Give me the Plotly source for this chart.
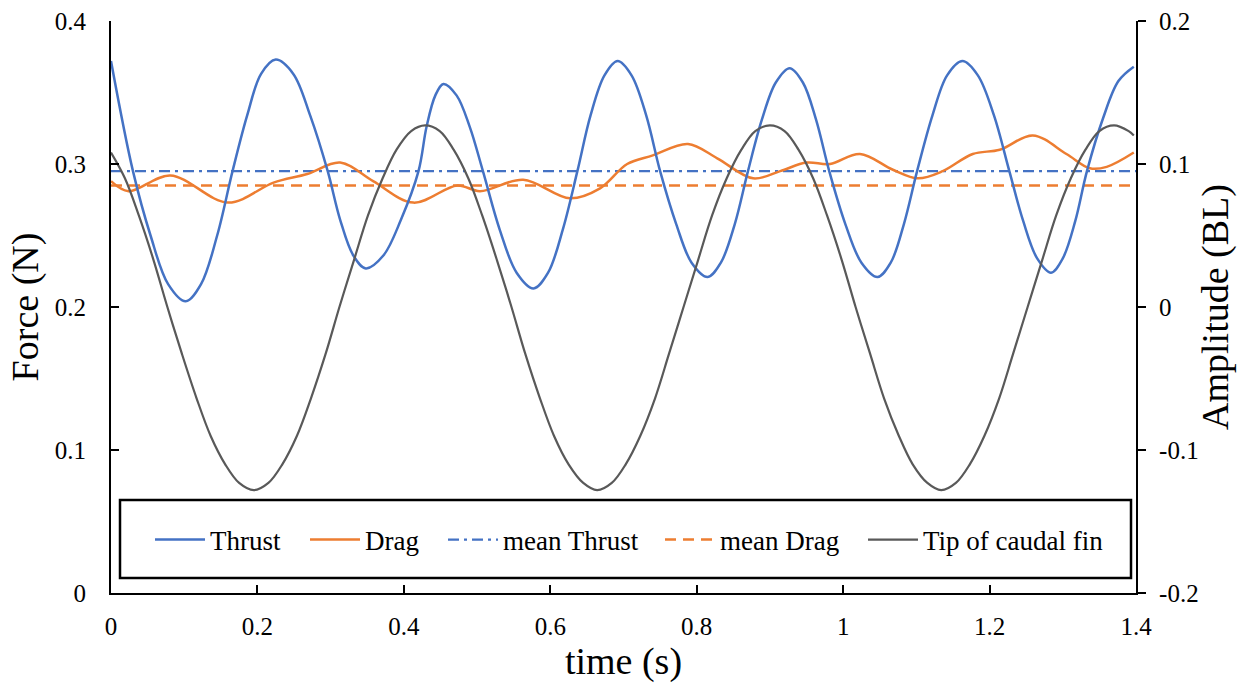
import plotly.graph_objects as go

# ---------------- data ----------------
thrust_t = [0.000, 0.030, 0.054, 0.078, 0.102, 0.123, 0.145, 0.166, 0.186, 0.205,
            0.225, 0.249, 0.272, 0.296, 0.313, 0.331, 0.348, 0.372, 0.396, 0.420,
            0.431, 0.443, 0.454, 0.472, 0.490, 0.508, 0.531, 0.554, 0.577, 0.597,
            0.617, 0.637, 0.655, 0.674, 0.692, 0.711, 0.731, 0.750, 0.772, 0.793,
            0.815, 0.833, 0.852, 0.870, 0.889, 0.908, 0.927, 0.945, 0.963, 0.981,
            1.003, 1.025, 1.047, 1.065, 1.083, 1.101, 1.122, 1.142, 1.163, 1.184,
            1.206, 1.227, 1.246, 1.265, 1.284, 1.300, 1.317, 1.333, 1.355, 1.376,
            1.397]
thrust_f = [0.372, 0.295, 0.250, 0.216, 0.204, 0.216, 0.250, 0.295, 0.334, 0.363,
            0.373, 0.363, 0.334, 0.295, 0.261, 0.236, 0.227, 0.236, 0.261, 0.295,
            0.326, 0.348, 0.356, 0.348, 0.326, 0.295, 0.254, 0.224, 0.213, 0.224,
            0.254, 0.295, 0.334, 0.362, 0.372, 0.362, 0.334, 0.295, 0.258, 0.231,
            0.221, 0.231, 0.258, 0.295, 0.331, 0.357, 0.367, 0.357, 0.331, 0.295,
            0.258, 0.231, 0.221, 0.231, 0.258, 0.295, 0.334, 0.362, 0.372, 0.362,
            0.334, 0.295, 0.260, 0.234, 0.224, 0.234, 0.260, 0.295, 0.332, 0.358,
            0.368]

drag_t = [0.000, 0.024, 0.081, 0.160, 0.222, 0.268, 0.313, 0.358, 0.413, 0.473,
          0.504, 0.563, 0.627, 0.668, 0.705, 0.740, 0.788, 0.828, 0.877, 0.914,
          0.950, 0.982, 1.023, 1.068, 1.102, 1.136, 1.177, 1.214, 1.259, 1.305,
          1.337, 1.360, 1.397]
drag_f = [0.288, 0.281, 0.292, 0.273, 0.287, 0.293, 0.301, 0.288, 0.273, 0.285,
          0.281, 0.289, 0.276, 0.283, 0.300, 0.306, 0.314, 0.304, 0.290, 0.295,
          0.301, 0.300, 0.307, 0.296, 0.290, 0.295, 0.307, 0.310, 0.320, 0.307,
          0.297, 0.298, 0.308]

mean_t = [0.0, 1.4]
mean_thrust = [0.295, 0.295]
mean_drag = [0.285, 0.285]

tip_t = [0.000, 0.019, 0.038, 0.058, 0.077, 0.097, 0.117, 0.136, 0.156, 0.175,
         0.195, 0.215, 0.234, 0.254, 0.273, 0.293, 0.312, 0.332, 0.351, 0.371,
         0.390, 0.410, 0.429, 0.449, 0.468, 0.488, 0.507, 0.527, 0.547, 0.566,
         0.586, 0.605, 0.625, 0.645, 0.664, 0.684, 0.703, 0.723, 0.743, 0.762,
         0.782, 0.802, 0.821, 0.841, 0.861, 0.880, 0.900, 0.920, 0.939, 0.959,
         0.978, 0.998, 1.017, 1.037, 1.056, 1.076, 1.095, 1.115, 1.134, 1.154,
         1.173, 1.193, 1.213, 1.232, 1.252, 1.272, 1.291, 1.311, 1.331, 1.350,
         1.370, 1.390, 1.397]
tip_a = [0.108, 0.090, 0.064, 0.033, 0.000, -0.033, -0.064, -0.090, -0.110, -0.123,
         -0.128, -0.123, -0.110, -0.090, -0.064, -0.033, 0.000, 0.033, 0.064, 0.090,
         0.110, 0.123, 0.127, 0.123, 0.110, 0.090, 0.064, 0.033, 0.000, -0.033,
         -0.064, -0.090, -0.110, -0.123, -0.128, -0.123, -0.110, -0.090, -0.064, -0.033,
         0.000, 0.033, 0.064, 0.090, 0.110, 0.123, 0.127, 0.123, 0.110, 0.090,
         0.064, 0.033, 0.000, -0.033, -0.064, -0.090, -0.110, -0.123, -0.128, -0.123,
         -0.110, -0.090, -0.064, -0.033, 0.000, 0.033, 0.064, 0.090, 0.110, 0.123,
         0.127, 0.123, 0.120]

x_ticks = [0, 0.2, 0.4, 0.6, 0.8, 1.0, 1.2, 1.4]
x_ticktext = ["0", "0.2", "0.4", "0.6", "0.8", "1", "1.2", "1.4"]
y_ticks = [0, 0.1, 0.2, 0.3, 0.4]
y_ticktext = ["0", "0.1", "0.2", "0.3", "0.4"]
y2_ticks = [-0.2, -0.1, 0, 0.1, 0.2]
y2_ticktext = ["-0.2", "-0.1", "0", "0.1", "0.2"]

# ---------------- styling ----------------
FONT = "Liberation Serif, Times New Roman, serif"
BLUE = "#4472C4"
ORANGE = "#ED7D31"
GREY = "#595959"
W, H = 1247, 688
ML, MR, MT, MB = 111, 111, 21, 95
PW = W - ML - MR
PH = H - MT - MB


def px_x(p):
    return (p - ML) / PW


def px_y(p):
    return (H - MB - p) / PH


fig = go.Figure()
fig.add_trace(go.Scatter(x=tip_t, y=tip_a, name="Tip of caudal fin", yaxis="y2",
                         mode="lines", line=dict(color=GREY, width=2.2, shape="spline", smoothing=1.0),
                         legend="legend5"))
fig.add_trace(go.Scatter(x=mean_t, y=mean_drag, name="mean Drag", mode="lines",
                         line=dict(color=ORANGE, width=2.5, dash="11px,7px"), legend="legend4"))
fig.add_trace(go.Scatter(x=mean_t, y=mean_thrust, name="mean Thrust", mode="lines",
                         line=dict(color=BLUE, width=2.2, dash="11px,5px,3px,5px"), legend="legend3"))
fig.add_trace(go.Scatter(x=drag_t, y=drag_f, name="Drag", mode="lines",
                         line=dict(color=ORANGE, width=2.5, shape="spline", smoothing=1.0),
                         legend="legend2"))
fig.add_trace(go.Scatter(x=thrust_t, y=thrust_f, name="Thrust", mode="lines",
                         line=dict(color=BLUE, width=2.5, shape="spline", smoothing=1.0),
                         legend="legend"))

leg_common = dict(font=dict(family=FONT, size=27, color="black"), bgcolor="rgba(0,0,0,0)",
                  borderwidth=0, xanchor="left", yanchor="middle", orientation="h",
                  itemwidth=50)
leg_y = px_y(540)
legend_left_px = [150, 305, 443, 660, 863]
legend_keys = ["legend", "legend2", "legend3", "legend4", "legend5"]
legend_layout = {}
for k, lp in zip(legend_keys, legend_left_px):
    legend_layout[k] = dict(x=px_x(lp), y=leg_y, **leg_common)

axis_font = dict(family=FONT, size=25, color="black")
title_font = dict(family=FONT, size=38, color="black")

fig.update_layout(
    width=W, height=H,
    margin=dict(l=ML, r=MR, t=MT, b=MB, autoexpand=False),
    paper_bgcolor="white", plot_bgcolor="white",
    showlegend=True,
    xaxis=dict(range=[0, 1.4], tickvals=x_ticks, ticktext=x_ticktext,
               showgrid=False, zeroline=False, showline=True, linecolor="black", linewidth=2.2,
               ticks="inside", ticklen=8, tickwidth=2, tickcolor="black",
               tickfont=axis_font, ticklabelstandoff=10,
               title=dict(text="time (s)", font=title_font, standoff=2)),
    yaxis=dict(range=[0, 0.4], tickvals=y_ticks, ticktext=y_ticktext,
               showgrid=False, zeroline=False, showline=True, linecolor="black", linewidth=2.2,
               ticks="inside", ticklen=8, tickwidth=2, tickcolor="black",
               tickfont=axis_font, ticklabelstandoff=18,
               title=dict(text="Force (N)", font=title_font, standoff=4)),
    yaxis2=dict(range=[-0.2, 0.2], tickvals=y2_ticks, ticktext=y2_ticktext,
                overlaying="y", side="right",
                showgrid=False, zeroline=False, showline=True, linecolor="black", linewidth=2.2,
                ticks="outside", ticklen=8, tickwidth=2, tickcolor="black",
                tickfont=axis_font, ticklabelstandoff=8,
                title=dict(text="Amplitude (BL)", font=title_font, standoff=4)),
    shapes=[dict(type="rect", xref="paper", yref="paper",
                 x0=px_x(120), x1=px_x(1131), y0=px_y(578), y1=px_y(500),
                 line=dict(color="black", width=2.5), fillcolor="rgba(0,0,0,0)", layer="above")],
    **legend_layout,
)

fig.write_html("out.html")
